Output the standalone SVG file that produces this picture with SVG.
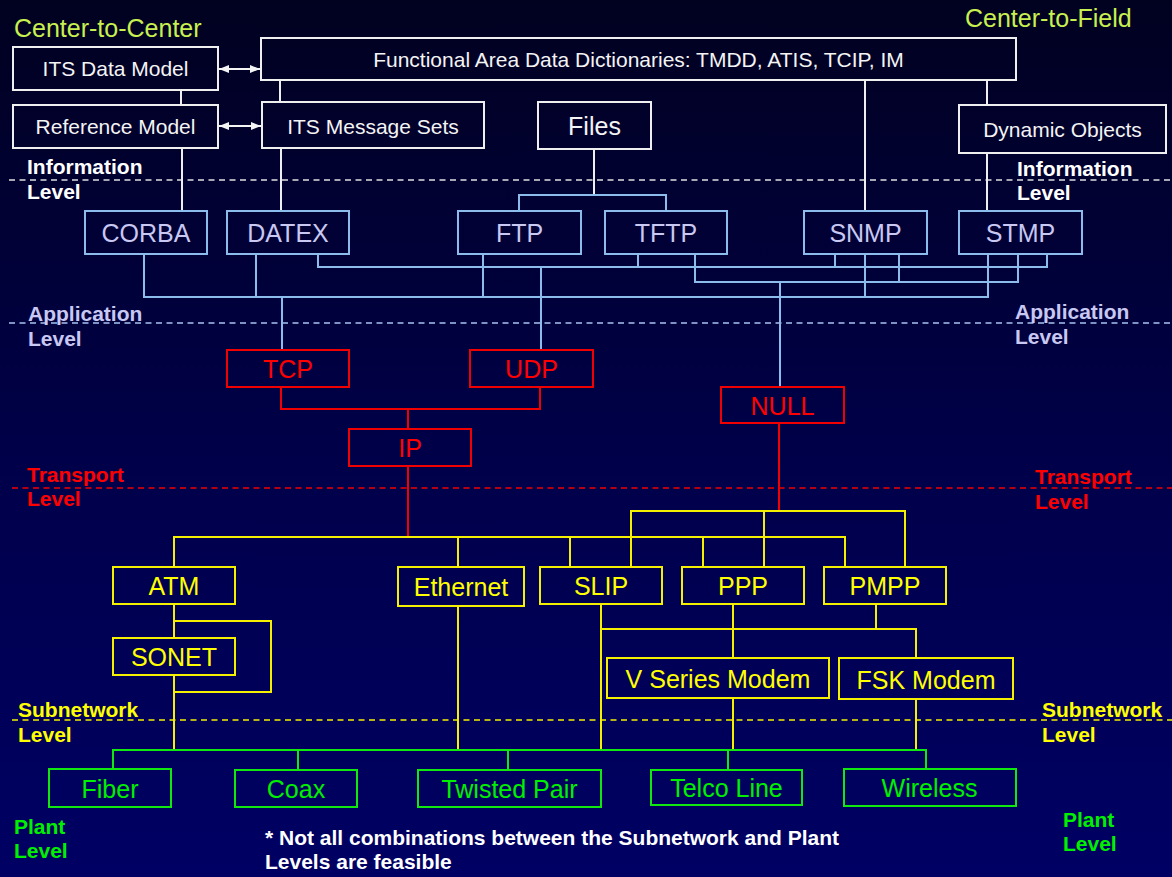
<svg xmlns="http://www.w3.org/2000/svg" width="1172" height="877" viewBox="0 0 1172 877">
<defs>
<linearGradient id="bg" x1="0" y1="0" x2="0" y2="1">
<stop offset="0" stop-color="#010120"/>
<stop offset="0.5" stop-color="#000048"/>
<stop offset="1" stop-color="#000064"/>
</linearGradient>
<marker id="ah" viewBox="0 0 10 8" refX="10" refY="4" markerWidth="10" markerHeight="8" markerUnits="userSpaceOnUse" orient="auto-start-reverse">
<path d="M0,0 L10,4 L0,8 Z" fill="#f4f4f4"/>
</marker>
<style>
text{font-family:"Liberation Sans",Arial,sans-serif}
.box{fill:none;stroke-width:2}
.w{stroke:#efefef}
.b{stroke:#8cbcec}
.r{stroke:#f00000}
.y{stroke:#f4f000}
.g{stroke:#10e810}
.tw{fill:#f4f4f4;font-size:21px;text-anchor:middle}
.tb{fill:#c8c8f2;font-size:25px;text-anchor:middle}
.tr{fill:#ff0000;font-size:25px;text-anchor:middle}
.ty{fill:#ffff00;font-size:25px;text-anchor:middle}
.tg{fill:#00f000;font-size:25px;text-anchor:middle}
.lvl{font-size:21px;font-weight:bold}
.ttl{fill:#c8f050;font-size:25px}
.dash{stroke-width:1.5;stroke-dasharray:6 4.5;fill:none}
.cw{stroke:#efefef;stroke-width:2;fill:none}
.cb{stroke:#8cbcec;stroke-width:2;fill:none}
.cr{stroke:#f00000;stroke-width:2;fill:none}
.cy{stroke:#f4f000;stroke-width:2;fill:none}
.cg{stroke:#10e810;stroke-width:2;fill:none}
</style>
</defs>
<rect x="0" y="0" width="1172" height="877" fill="url(#bg)"/>

<!-- level lines and labels -->
<g id="levels">
<line class="dash" x1="9" y1="180" x2="1172" y2="180" stroke="#e0e0e0"/>
<line class="dash" x1="9" y1="323" x2="1172" y2="323" stroke="#a8c4f0"/>
<line class="dash" x1="12" y1="488" x2="1172" y2="488" stroke="#f00000"/>
<line class="dash" x1="12" y1="720" x2="1172" y2="720" stroke="#f4f000"/>
<text class="lvl" x="27" y="174" fill="#ffffff">Information</text>
<text class="lvl" x="27" y="199" fill="#ffffff">Level</text>
<text class="lvl" x="1017" y="176" fill="#ffffff">Information</text>
<text class="lvl" x="1017" y="200" fill="#ffffff">Level</text>
<text class="lvl" x="28" y="321" fill="#c8c8f2">Application</text>
<text class="lvl" x="28" y="346" fill="#c8c8f2">Level</text>
<text class="lvl" x="1015" y="319" fill="#c8c8f2">Application</text>
<text class="lvl" x="1015" y="344" fill="#c8c8f2">Level</text>
<text class="lvl" x="27" y="482" fill="#ff0000">Transport</text>
<text class="lvl" x="27" y="506" fill="#ff0000">Level</text>
<text class="lvl" x="1035" y="484" fill="#ff0000">Transport</text>
<text class="lvl" x="1035" y="509" fill="#ff0000">Level</text>
<text class="lvl" x="18" y="717" fill="#ffff00">Subnetwork</text>
<text class="lvl" x="18" y="742" fill="#ffff00">Level</text>
<text class="lvl" x="1042" y="717" fill="#ffff00">Subnetwork</text>
<text class="lvl" x="1042" y="742" fill="#ffff00">Level</text>
<text class="lvl" x="14" y="834" fill="#00f000">Plant</text>
<text class="lvl" x="14" y="858" fill="#00f000">Level</text>
<text class="lvl" x="1063" y="827" fill="#00f000">Plant</text>
<text class="lvl" x="1063" y="851" fill="#00f000">Level</text>
<text class="ttl" x="14" y="37">Center-to-Center</text>
<text class="ttl" x="965" y="27">Center-to-Field</text>
<text class="lvl" x="265" y="845" fill="#ffffff">* Not all combinations between the Subnetwork and Plant</text>
<text class="lvl" x="265" y="869" fill="#ffffff">Levels are feasible</text>
</g>

<!-- connectors -->
<g id="connectors">
<line x1="219" y1="69" x2="260" y2="69" stroke="#f4f4f4" stroke-width="2" marker-start="url(#ah)" marker-end="url(#ah)"/>
<line x1="219" y1="126" x2="261" y2="126" stroke="#f4f4f4" stroke-width="2" marker-start="url(#ah)" marker-end="url(#ah)"/>
<line class="cw" x1="181" y1="90" x2="181" y2="105"/>
<line class="cw" x1="280" y1="80" x2="280" y2="102"/>
<line class="cw" x1="182" y1="148" x2="182" y2="211"/>
<line class="cw" x1="281" y1="148" x2="281" y2="211"/>
<line class="cw" x1="865" y1="80" x2="865" y2="211"/>
<line class="cw" x1="987" y1="80" x2="987" y2="105"/>
<line class="cw" x1="987" y1="153" x2="987" y2="211"/>
<line class="cw" x1="594" y1="149" x2="594" y2="196"/>
<polyline class="cb" points="519,211 519,195 666,195 666,211"/>
<!-- application bus -->
<polyline class="cb" points="144,254 144,297 988,297 988,254"/>
<line class="cb" x1="256" y1="254" x2="256" y2="297"/>
<line class="cb" x1="483" y1="254" x2="483" y2="297"/>
<line class="cb" x1="865" y1="254" x2="865" y2="297"/>
<polyline class="cb" points="318,254 318,267 1047,267 1047,254"/>
<line class="cb" x1="638" y1="254" x2="638" y2="267"/>
<line class="cb" x1="835" y1="254" x2="835" y2="267"/>
<polyline class="cb" points="695,254 695,282 1018,282 1018,254"/>
<line class="cb" x1="899" y1="254" x2="899" y2="282"/>
<line class="cb" x1="282" y1="297" x2="282" y2="350"/>
<line class="cb" x1="541" y1="267" x2="541" y2="350"/>
<line class="cb" x1="780" y1="282" x2="780" y2="387"/>
<!-- transport -->
<polyline class="cr" points="281,387 281,409 540,409 540,387"/>
<line class="cr" x1="408" y1="409" x2="408" y2="429"/>
<line class="cr" x1="408" y1="466" x2="408" y2="537"/>
<line class="cr" x1="779" y1="423" x2="779" y2="511"/>
<!-- subnetwork -->
<polyline class="cy" points="174,567 174,537 845,537 845,567"/>
<line class="cy" x1="458" y1="537" x2="458" y2="567"/>
<line class="cy" x1="570" y1="537" x2="570" y2="567"/>
<line class="cy" x1="703" y1="537" x2="703" y2="567"/>
<polyline class="cy" points="631,567 631,511 905,511 905,567"/>
<line class="cy" x1="764" y1="511" x2="764" y2="567"/>
<line class="cy" x1="174" y1="604" x2="174" y2="638"/>
<polyline class="cy" points="174,621 271,621 271,692 174,692"/>
<line class="cy" x1="174" y1="675" x2="174" y2="750"/>
<line class="cy" x1="458" y1="606" x2="458" y2="750"/>
<line class="cy" x1="601" y1="604" x2="601" y2="750"/>
<polyline class="cy" points="601,629 916,629 916,658"/>
<line class="cy" x1="733" y1="604" x2="733" y2="658"/>
<line class="cy" x1="876" y1="604" x2="876" y2="629"/>
<line class="cy" x1="733" y1="698" x2="733" y2="750"/>
<line class="cy" x1="916" y1="699" x2="916" y2="750"/>
<!-- plant -->
<polyline class="cg" points="113,769 113,750 926,750 926,769"/>
<line class="cg" x1="298" y1="750" x2="298" y2="770"/>
<line class="cg" x1="508" y1="750" x2="508" y2="770"/>
<line class="cg" x1="728" y1="750" x2="728" y2="770"/>
</g>

<!-- information level nodes -->
<g id="its-data-model"><rect class="box w" x="13" y="47" width="205" height="43"/><text class="tw" x="115.5" y="76">ITS Data Model</text></g>
<g id="functional-area"><rect class="box w" x="261" y="38" width="755" height="42"/><text class="tw" x="638.5" y="67">Functional Area Data Dictionaries: TMDD, ATIS, TCIP, IM</text></g>
<g id="reference-model"><rect class="box w" x="13" y="105" width="205" height="43"/><text class="tw" x="115.5" y="134">Reference Model</text></g>
<g id="its-message-sets"><rect class="box w" x="262" y="102" width="222" height="46"/><text class="tw" x="373" y="134">ITS Message Sets</text></g>
<g id="files"><rect class="box w" x="538" y="102" width="113" height="47"/><text class="tw" x="594.5" y="135" style="font-size:25px">Files</text></g>
<g id="dynamic-objects"><rect class="box w" x="959" y="105" width="207" height="48"/><text class="tw" x="1062.5" y="137">Dynamic Objects</text></g>

<!-- application level nodes -->
<g id="corba"><rect class="box b" x="85" y="211" width="122" height="43"/><text class="tb" x="146" y="242">CORBA</text></g>
<g id="datex"><rect class="box b" x="227" y="211" width="122" height="43"/><text class="tb" x="288" y="242">DATEX</text></g>
<g id="ftp"><rect class="box b" x="458" y="211" width="123" height="43"/><text class="tb" x="519.5" y="242">FTP</text></g>
<g id="tftp"><rect class="box b" x="605" y="211" width="122" height="43"/><text class="tb" x="666" y="242">TFTP</text></g>
<g id="snmp"><rect class="box b" x="804" y="211" width="123" height="43"/><text class="tb" x="865.5" y="242">SNMP</text></g>
<g id="stmp"><rect class="box b" x="959" y="211" width="123" height="43"/><text class="tb" x="1020.5" y="242">STMP</text></g>

<!-- transport level nodes -->
<g id="tcp"><rect class="box r" x="227" y="350" width="122" height="37"/><text class="tr" x="288" y="378">TCP</text></g>
<g id="udp"><rect class="box r" x="470" y="350" width="123" height="37"/><text class="tr" x="531.5" y="378">UDP</text></g>
<g id="null"><rect class="box r" x="721" y="387" width="123" height="36"/><text class="tr" x="782.5" y="415">NULL</text></g>
<g id="ip"><rect class="box r" x="349" y="429" width="122" height="37"/><text class="tr" x="410" y="457">IP</text></g>

<!-- subnetwork level nodes -->
<g id="atm"><rect class="box y" x="113" y="567" width="122" height="37"/><text class="ty" x="174" y="595">ATM</text></g>
<g id="sonet"><rect class="box y" x="113" y="638" width="122" height="37"/><text class="ty" x="174" y="666">SONET</text></g>
<g id="ethernet"><rect class="box y" x="398" y="567" width="126" height="39"/><text class="ty" x="461" y="596">Ethernet</text></g>
<g id="slip"><rect class="box y" x="540" y="567" width="122" height="37"/><text class="ty" x="601" y="595">SLIP</text></g>
<g id="ppp"><rect class="box y" x="682" y="567" width="122" height="37"/><text class="ty" x="743" y="595">PPP</text></g>
<g id="pmpp"><rect class="box y" x="824" y="567" width="122" height="37"/><text class="ty" x="885" y="595">PMPP</text></g>
<g id="v-series-modem"><rect class="box y" x="607" y="658" width="222" height="40"/><text class="ty" x="718" y="688">V Series Modem</text></g>
<g id="fsk-modem"><rect class="box y" x="839" y="658" width="174" height="41"/><text class="ty" x="926" y="689">FSK Modem</text></g>

<!-- plant level nodes -->
<g id="fiber"><rect class="box g" x="49" y="769" width="122" height="38"/><text class="tg" x="110" y="798">Fiber</text></g>
<g id="coax"><rect class="box g" x="235" y="770" width="122" height="37"/><text class="tg" x="296" y="798">Coax</text></g>
<g id="twisted-pair"><rect class="box g" x="418" y="770" width="183" height="37"/><text class="tg" x="509.5" y="798">Twisted Pair</text></g>
<g id="telco-line"><rect class="box g" x="651" y="770" width="151" height="35"/><text class="tg" x="726.5" y="797">Telco Line</text></g>
<g id="wireless"><rect class="box g" x="844" y="769" width="172" height="37"/><text class="tg" x="929.5" y="797">Wireless</text></g>
</svg>
